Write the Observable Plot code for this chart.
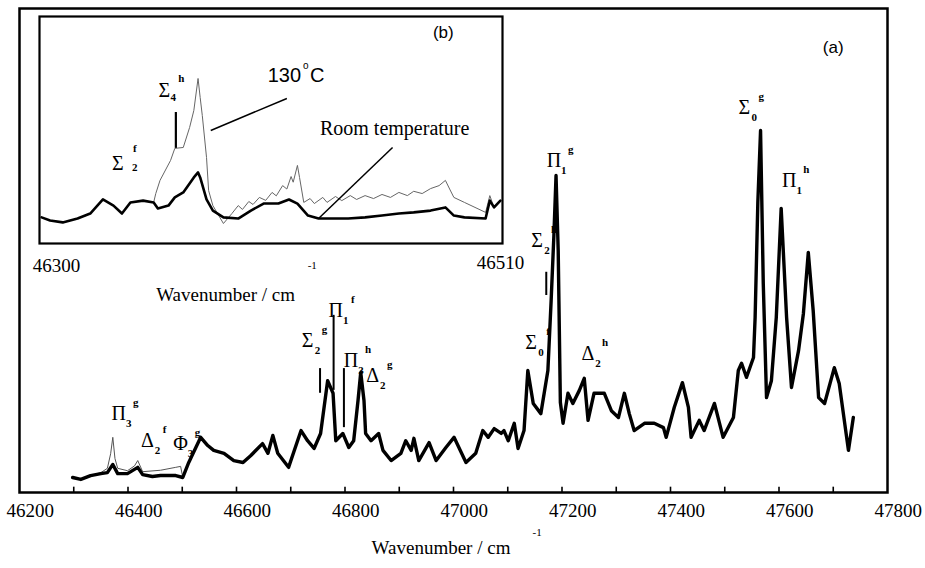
<!DOCTYPE html>
<html><head><meta charset="utf-8">
<script src="https://cdn.jsdelivr.net/npm/d3@7"></script>
<script src="https://cdn.jsdelivr.net/npm/@observablehq/plot@0.6"></script>
<style>
body{margin:0;background:#fff;}
#wrap{position:relative;width:925px;height:568px;overflow:hidden;}
#wrap svg{position:absolute;left:0;top:0;}
</style></head><body><div id="wrap"></div>
<script>
// ---------- data (wavenumber cm^-1, intensity arb. units) ----------
const mainRoom = [[46278,3.1],[46293,2.7],[46311,3.5],[46330,3.9],[46342,4.1],[46352,5.8],[46361,3.9],[46379,3.9],[46398,5.2],[46407,3.7],[46425,3.3],[46440,3.5],[46468,3.5],[46481,3.1],[46492,6.2],[46514,11.4],[46527,9.7],[46538,8.7],[46557,8.1],[46575,6.6],[46592,6.2],[46606,7.6],[46628,10.1],[46638,8.1],[46647,11.8],[46656,8.1],[46676,5.2],[46699,12.8],[46711,10.7],[46723,9.1],[46735,12.2],[46748,23.1],[46758,20.5],[46763,10.7],[46776,12.2],[46787,9.3],[46796,10.7],[46804,19.0],[46809,24.8],[46815,19.0],[46818,12.2],[46828,10.7],[46842,12.2],[46850,8.7],[46865,6.6],[46883,8.1],[46892,10.7],[46902,8.7],[46907,11.2],[46916,6.6],[46935,10.3],[46948,6.6],[46966,9.3],[46981,11.4],[47003,6.2],[47021,8.1],[47034,12.8],[47044,11.4],[47055,13.2],[47068,12.2],[47073,12.8],[47081,10.7],[47092,14.3],[47099,9.1],[47110,12.8],[47117,25.2],[47127,18.4],[47141,16.3],[47154,25.2],[47160,39.7],[47165,53],[47169,65.5],[47173,50],[47177,18.6],[47182,14.3],[47191,20.5],[47200,18.4],[47212,21.1],[47221,23.6],[47228,14.9],[47239,20.5],[47258,20.5],[47271,16.9],[47284,15.5],[47295,20.5],[47304,16.3],[47313,12.8],[47332,14.3],[47350,14.3],[47367,13.4],[47372,11.4],[47387,17.6],[47402,22.7],[47413,17.6],[47418,11.4],[47433,14.9],[47442,12.8],[47461,18.4],[47477,11.4],[47496,15.5],[47505,25.2],[47511,26.7],[47520,23.8],[47533,27.9],[47536,36.2],[47541,60],[47546,74.8],[47551,43.2],[47557,19.6],[47566,23.1],[47575,36.2],[47584,58.7],[47594,36.2],[47603,21.7],[47616,29.3],[47625,37.0],[47634,49.6],[47643,37.6],[47653,19.6],[47664,18.4],[47682,25.8],[47691,22.5],[47708,8.7],[47717,15.5]];
const mainHot = [[46278,3.1],[46293,2.7],[46311,3.5],[46330,4.1],[46342,5.0],[46348,8.0],[46352,11.4],[46356,7.0],[46361,5.0],[46379,4.5],[46392,5.5],[46398,6.6],[46407,4.3],[46440,4.6],[46468,5.2],[46477,5.4],[46481,3.1],[46492,6.2]];
const insetRoom = [[46293,11.5],[46297,10.1],[46303,9.3],[46310,11.0],[46316,13.2],[46322,19.4],[46327,16.7],[46331,13.2],[46335,18.1],[46341,18.9],[46346,18.1],[46348,15.4],[46353,16.7],[46356,20.3],[46360,22.5],[46365,29.1],[46367,31.3],[46368,29.1],[46371,19.4],[46374,14.5],[46379,11.5],[46386,11.0],[46392,14.5],[46398,17.6],[46405,17.6],[46410,19.4],[46414,17.6],[46419,12.3],[46424,11.0],[46430,11.0],[46438,11.0],[46446,11.5],[46454,12.3],[46462,13.2],[46469,13.7],[46477,14.5],[46484,15.9],[46488,12.3],[46493,11.5],[46503,11.0],[46505,18.9],[46507,15.9],[46510,18.9]];
const insetHot = [[46293,11.5],[46297,10.1],[46303,9.3],[46310,11.0],[46316,13.2],[46322,19.4],[46327,16.7],[46331,13.2],[46335,18.1],[46341,18.9],[46346,18.1],[46347,22.0],[46349,27.8],[46354,36.6],[46356,41.9],[46360,42.3],[46363,51.1],[46365,58.6],[46367,72.7],[46368,64.3],[46369,56.4],[46371,37.9],[46372,23.3],[46374,16.7],[46379,8.8],[46383,13.2],[46386,16.7],[46388,15.0],[46391,18.5],[46393,17.2],[46396,20.3],[46399,19.0],[46402,22.5],[46404,21.0],[46407,25.5],[46409,24.0],[46411,29.5],[46412,27.0],[46414,34.4],[46415,29.1],[46417,18.1],[46420,19.8],[46422,17.6],[46426,20.3],[46428,18.1],[46432,20.7],[46435,18.9],[46439,21.1],[46442,19.4],[46446,21.1],[46450,19.8],[46454,21.6],[46458,20.3],[46462,22.5],[46466,21.1],[46469,23.0],[46473,22.0],[46477,24.2],[46481,25.5],[46484,27.8],[46486,24.0],[46488,20.3],[46493,18.1],[46503,13.7],[46505,21.1],[46507,15.9],[46510,18.9]];
const xTickLabels = [46200,46400,46600,46800,47000,47200,47400,47600,47800];
const minorTicks = [46280,46380,46480,46580,46680,46780,46880,46980,47080,47180,47280,47380,47480,47580,47680];
const insetTickLeft = [46300];
const insetTickRight = [46510];
const peakLabels = [
  {sym:"Π",sub:"3",sup:"g",wn:46363,I:16.3},
  {sym:"Δ",sub:"2",sup:"f",wn:46416,I:10.7},
  {sym:"Φ",sub:"3",sup:"g",wn:46477,I:10.1},
  {sym:"Σ",sub:"2",sup:"g",wn:46711,I:31.4},
  {sym:"Π",sub:"1",sup:"f",wn:46763,I:37.6},
  {sym:"Π",sub:"3",sup:"h",wn:46791,I:27.3},
  {sym:"Δ",sub:"2",sup:"g",wn:46831,I:24.2},
  {sym:"Σ",sub:"0",sup:"f",wn:47123,I:31.0},
  {sym:"Σ",sub:"2",sup:"h",wn:47134,I:52.1},
  {sym:"Π",sub:"1",sup:"g",wn:47165,I:68.6},
  {sym:"Δ",sub:"2",sup:"h",wn:47228,I:28.7},
  {sym:"Σ",sub:"0",sup:"g",wn:47516,I:79.5},
  {sym:"Π",sub:"1",sup:"h",wn:47599,I:64.5}
];
const markers = [
  {wn:46734,lo:20.5,hi:25.6},
  {wn:46759,lo:21.1,hi:36.6},
  {wn:46778,lo:13.4,hi:25.6},
  {wn:47151,lo:40.7,hi:45.5}
];
const insetMarker = [{wn:46356.5,lo:41.9,hi:57.7}];
const insetPointers = [
  {x1:46409,y1:63.9,x2:46373,y2:49.8},
  {x1:46459,y1:42.3,x2:46424,y2:11.0}
];

const serif = "Liberation Serif";
const sans = "Liberation Sans";
const X = d => d[0], Y = d => d[1];

// ---------- main panel (a) ----------
const main = Plot.plot({
  width: 925, height: 568,
  marginLeft: 19, marginRight: 38, marginTop: 8, marginBottom: 76,
  x: {domain: [46180, 47780], axis: null},
  y: {domain: [0, 100], axis: null},
  style: {fontFamily: serif, color: "black", background: "transparent", overflow: "visible"},
  marks: [
    Plot.frame({stroke: "black", strokeWidth: 2.5}),
    Plot.ruleX(minorTicks, {x: d => d, y1: 0, y2: 1.1, strokeWidth: 1.6}),
    Plot.text(xTickLabels, {x: d => d, frameAnchor: "bottom", dy: 24, text: d => String(d), fontSize: 19, fontFamily: serif}),
    Plot.text(["Wavenumber / cm"], {x: 46957, frameAnchor: "bottom", dy: 61, text: d => d, fontSize: 19, fontFamily: serif}),
    Plot.text(["-1"], {x: 47134, frameAnchor: "bottom", dy: 43, text: d => d, fontSize: 11, fontFamily: serif}),
    Plot.line(mainHot, {x: X, y: Y, stroke: "#555", strokeWidth: 1}),
    Plot.line(mainRoom, {x: X, y: Y, stroke: "black", strokeWidth: 3.4, strokeLinejoin: "round"}),
    Plot.ruleX(markers, {x: "wn", y1: "lo", y2: "hi", strokeWidth: 2}),
    Plot.text(peakLabels, {x: "wn", y: "I", text: "sym", fontSize: 20, fontFamily: serif}),
    Plot.text(peakLabels, {x: "wn", y: "I", text: "sub", dx: 10, dy: 10, fontSize: 11, fontWeight: "bold", fontFamily: serif}),
    Plot.text(peakLabels, {x: "wn", y: "I", text: "sup", dx: 17, dy: -11, fontSize: 11, fontWeight: "bold", fontFamily: serif}),
    Plot.text(["(a)"], {x: 47680, y: 91.9, text: d => d, fontSize: 17, fontFamily: sans})
  ]
});

// ---------- inset panel (b) ----------
const inset = Plot.plot({
  width: 540, height: 320,
  marginLeft: 39, marginRight: 38, marginTop: 16, marginBottom: 77,
  x: {domain: [46292, 46511], axis: null},
  y: {domain: [0, 100], axis: null},
  style: {fontFamily: serif, color: "black", background: "transparent", overflow: "visible"},
  marks: [
    Plot.frame({stroke: "black", strokeWidth: 2.2, fill: "white"}),
    Plot.line(insetHot, {x: X, y: Y, stroke: "#666", strokeWidth: 1}),
    Plot.line(insetRoom, {x: X, y: Y, stroke: "black", strokeWidth: 2.6, strokeLinejoin: "round"}),
    Plot.ruleX(insetMarker, {x: "wn", y1: "lo", y2: "hi", strokeWidth: 2.2}),
    Plot.link(insetPointers, {x1: "x1", y1: "y1", x2: "x2", y2: "y2", stroke: "black", strokeWidth: 1.5}),
    Plot.text(insetTickLeft, {x: d => d, frameAnchor: "bottom", dy: 28, text: d => String(d), fontSize: 19, fontFamily: serif}),
    Plot.text(insetTickRight, {x: d => d, frameAnchor: "bottom", dy: 25, text: d => String(d), fontSize: 19, fontFamily: serif}),
    Plot.text(["Wavenumber / cm"], {x: 46380, frameAnchor: "bottom", dy: 57, text: d => d, fontSize: 19, fontFamily: serif}),
    Plot.text(["-1"], {x: 46421, frameAnchor: "bottom", dy: 25, text: d => d, fontSize: 11, fontFamily: serif}),
    Plot.text(["(b)"], {x: 46483, y: 93, text: d => d, fontSize: 17, fontFamily: sans}),
    Plot.text(["130"], {x: 46415.7, y: 74, text: d => d, textAnchor: "end", fontSize: 20, fontFamily: sans}),
    Plot.text(["o"], {x: 46415.7, y: 74, text: d => d, textAnchor: "start", dx: 2, dy: -10, fontSize: 10, fontFamily: sans}),
    Plot.text(["C"], {x: 46415.7, y: 74, text: d => d, textAnchor: "start", dx: 9, fontSize: 20, fontFamily: sans}),
    Plot.text(["Room temperature"], {x: 46460, y: 50.7, text: d => d, fontSize: 20, fontFamily: serif}),
    Plot.text(["Σ"], {x: 46351, y: 67.4, text: d => d, fontSize: 20, fontFamily: serif}),
    Plot.text(["4"], {x: 46351, y: 67.4, text: d => d, dx: 9, dy: 7, fontSize: 11, fontWeight: "bold", fontFamily: serif}),
    Plot.text(["h"], {x: 46351, y: 67.4, text: d => d, dx: 17, dy: -12, fontSize: 11, fontWeight: "bold", fontFamily: serif}),
    Plot.text(["Σ"], {x: 46329, y: 35.2, text: d => d, fontSize: 20, fontFamily: serif}),
    Plot.text(["2"], {x: 46329, y: 35.2, text: d => d, dx: 17, dy: 4, fontSize: 11, fontWeight: "bold", fontFamily: serif}),
    Plot.text(["f"], {x: 46329, y: 35.2, text: d => d, dx: 17, dy: -15, fontSize: 11, fontWeight: "bold", fontFamily: serif})
  ]
});

const wrap = document.getElementById("wrap");
wrap.appendChild(main);
wrap.appendChild(inset);
</script>
</body></html>
